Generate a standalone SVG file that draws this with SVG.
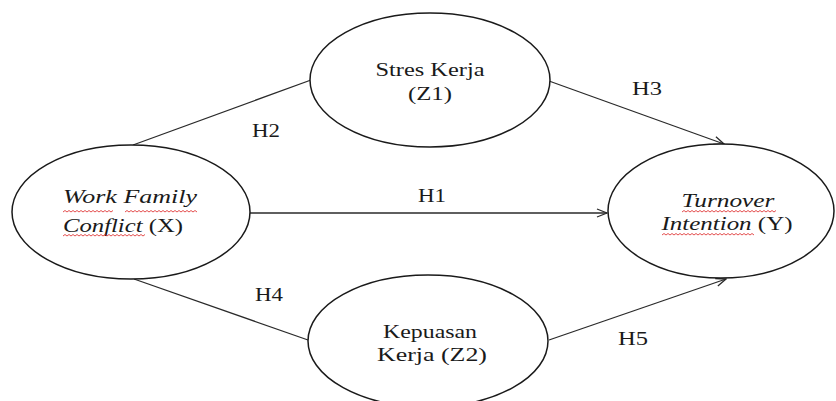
<svg xmlns="http://www.w3.org/2000/svg" width="836" height="401" viewBox="0 0 836 401">
  <defs>
    <style>
      .node { fill: #ffffff; stroke: #1a1a1a; stroke-width: 1.5; }
      .lbl { font-family: "Liberation Serif", "Times New Roman", serif; font-size: 18px; fill: #1a1a1a; text-anchor: middle; }
      .it { font-style: italic; }
      .edge { stroke: #2a2a2a; stroke-width: 1.3; fill: none; }
      .squig { stroke: #d22; stroke-width: 0.8; fill: none; }
    </style>
    <marker id="arr" viewBox="0 0 12 10" refX="11" refY="5" markerWidth="12" markerHeight="10" markerUnits="userSpaceOnUse" orient="auto">
      <path d="M1,1 L11,5 L1,9" fill="none" stroke="#2a2a2a" stroke-width="1.3"/>
    </marker>
  </defs>
  <rect width="836" height="401" fill="#ffffff"/>

  <g id="connectors">
    <line class="edge" x1="250" y1="213" x2="607" y2="213" marker-end="url(#arr)"/>
    <line class="edge" x1="133" y1="145" x2="311" y2="80"/>
    <line class="edge" x1="549" y1="81" x2="724" y2="144" marker-end="url(#arr)"/>
    <line class="edge" x1="134" y1="279" x2="308" y2="340"/>
    <line class="edge" x1="549" y1="340" x2="726" y2="279" marker-end="url(#arr)"/>
    <text class="lbl" x="432" y="202" textLength="28" lengthAdjust="spacingAndGlyphs">H1</text>
    <text class="lbl" x="266" y="137" textLength="28" lengthAdjust="spacingAndGlyphs">H2</text>
    <text class="lbl" x="647" y="95" textLength="30" lengthAdjust="spacingAndGlyphs">H3</text>
    <text class="lbl" x="269" y="301" textLength="28" lengthAdjust="spacingAndGlyphs">H4</text>
    <text class="lbl" x="633" y="345" textLength="30" lengthAdjust="spacingAndGlyphs">H5</text>
  </g>

  <g id="node-x">
    <ellipse class="node" cx="131" cy="212" rx="119" ry="67"/>
    <text class="lbl it" x="130" y="203" textLength="134" lengthAdjust="spacingAndGlyphs">Work Family</text>
    <text class="lbl" x="123" y="232" textLength="120" lengthAdjust="spacingAndGlyphs"><tspan class="it">Conflict</tspan> (X)</text>
    <path class="squig" d="M63,212 l2,-1.5 l2,1.5 l2,-1.5 l2,1.5 l2,-1.5 l2,1.5 l2,-1.5 l2,1.5 l2,-1.5 l2,1.5 l2,-1.5 l2,1.5 l2,-1.5 l2,1.5 l2,-1.5 l2,1.5 l2,-1.5 l2,1.5 l2,-1.5 l2,1.5 l2,-1.5 l2,1.5 l2,-1.5 l2,1.5 l2,-1.5"/>
    <path class="squig" d="M125,212 l2,-1.5 l2,1.5 l2,-1.5 l2,1.5 l2,-1.5 l2,1.5 l2,-1.5 l2,1.5 l2,-1.5 l2,1.5 l2,-1.5 l2,1.5 l2,-1.5 l2,1.5 l2,-1.5 l2,1.5 l2,-1.5 l2,1.5 l2,-1.5 l2,1.5 l2,-1.5 l2,1.5 l2,-1.5 l2,1.5 l2,-1.5 l2,1.5 l2,-1.5 l2,1.5 l2,-1.5 l2,1.5 l2,-1.5 l2,1.5 l2,-1.5 l2,1.5 l2,-1.5 l2,1.5"/>
    <path class="squig" d="M63,236 l2,-1.5 l2,1.5 l2,-1.5 l2,1.5 l2,-1.5 l2,1.5 l2,-1.5 l2,1.5 l2,-1.5 l2,1.5 l2,-1.5 l2,1.5 l2,-1.5 l2,1.5 l2,-1.5 l2,1.5 l2,-1.5 l2,1.5 l2,-1.5 l2,1.5 l2,-1.5 l2,1.5 l2,-1.5 l2,1.5 l2,-1.5 l2,1.5 l2,-1.5 l2,1.5 l2,-1.5 l2,1.5 l2,-1.5 l2,1.5 l2,-1.5 l2,1.5 l2,-1.5 l2,1.5 l2,-1.5 l2,1.5 l2,-1.5 l2,1.5 l2,-1.5"/>
  </g>

  <g id="node-z1">
    <ellipse class="node" cx="430" cy="80" rx="120" ry="67"/>
    <text class="lbl" x="430" y="76" textLength="109" lengthAdjust="spacingAndGlyphs">Stres Kerja</text>
    <text class="lbl" x="430" y="100" textLength="44" lengthAdjust="spacingAndGlyphs">(Z1)</text>
  </g>

  <g id="node-z2">
    <ellipse class="node" cx="428" cy="341" rx="120" ry="66"/>
    <text class="lbl" x="430" y="338" textLength="94" lengthAdjust="spacingAndGlyphs">Kepuasan</text>
    <text class="lbl" x="432" y="361" textLength="110" lengthAdjust="spacingAndGlyphs">Kerja (Z2)</text>
  </g>

  <g id="node-y">
    <ellipse class="node" cx="721" cy="211" rx="113" ry="67"/>
    <text class="lbl it" x="728" y="207" textLength="93" lengthAdjust="spacingAndGlyphs">Turnover</text>
    <text class="lbl" x="727" y="230" textLength="131" lengthAdjust="spacingAndGlyphs"><tspan class="it">Intention</tspan> (Y)</text>
    <path class="squig" d="M682,212 l2,-1.5 l2,1.5 l2,-1.5 l2,1.5 l2,-1.5 l2,1.5 l2,-1.5 l2,1.5 l2,-1.5 l2,1.5 l2,-1.5 l2,1.5 l2,-1.5 l2,1.5 l2,-1.5 l2,1.5 l2,-1.5 l2,1.5 l2,-1.5 l2,1.5 l2,-1.5 l2,1.5 l2,-1.5 l2,1.5 l2,-1.5 l2,1.5 l2,-1.5 l2,1.5 l2,-1.5 l2,1.5 l2,-1.5 l2,1.5 l2,-1.5 l2,1.5 l2,-1.5 l2,1.5 l2,-1.5 l2,1.5 l2,-1.5 l2,1.5 l2,-1.5 l2,1.5 l2,-1.5 l2,1.5 l2,-1.5 l2,1.5 l2,-1.5"/>
    <path class="squig" d="M662,235 l2,-1.5 l2,1.5 l2,-1.5 l2,1.5 l2,-1.5 l2,1.5 l2,-1.5 l2,1.5 l2,-1.5 l2,1.5 l2,-1.5 l2,1.5 l2,-1.5 l2,1.5 l2,-1.5 l2,1.5 l2,-1.5 l2,1.5 l2,-1.5 l2,1.5 l2,-1.5 l2,1.5 l2,-1.5 l2,1.5 l2,-1.5 l2,1.5 l2,-1.5 l2,1.5 l2,-1.5 l2,1.5 l2,-1.5 l2,1.5 l2,-1.5 l2,1.5 l2,-1.5 l2,1.5 l2,-1.5 l2,1.5 l2,-1.5 l2,1.5 l2,-1.5 l2,1.5 l2,-1.5 l2,1.5 l2,-1.5 l2,1.5"/>
  </g>
</svg>
